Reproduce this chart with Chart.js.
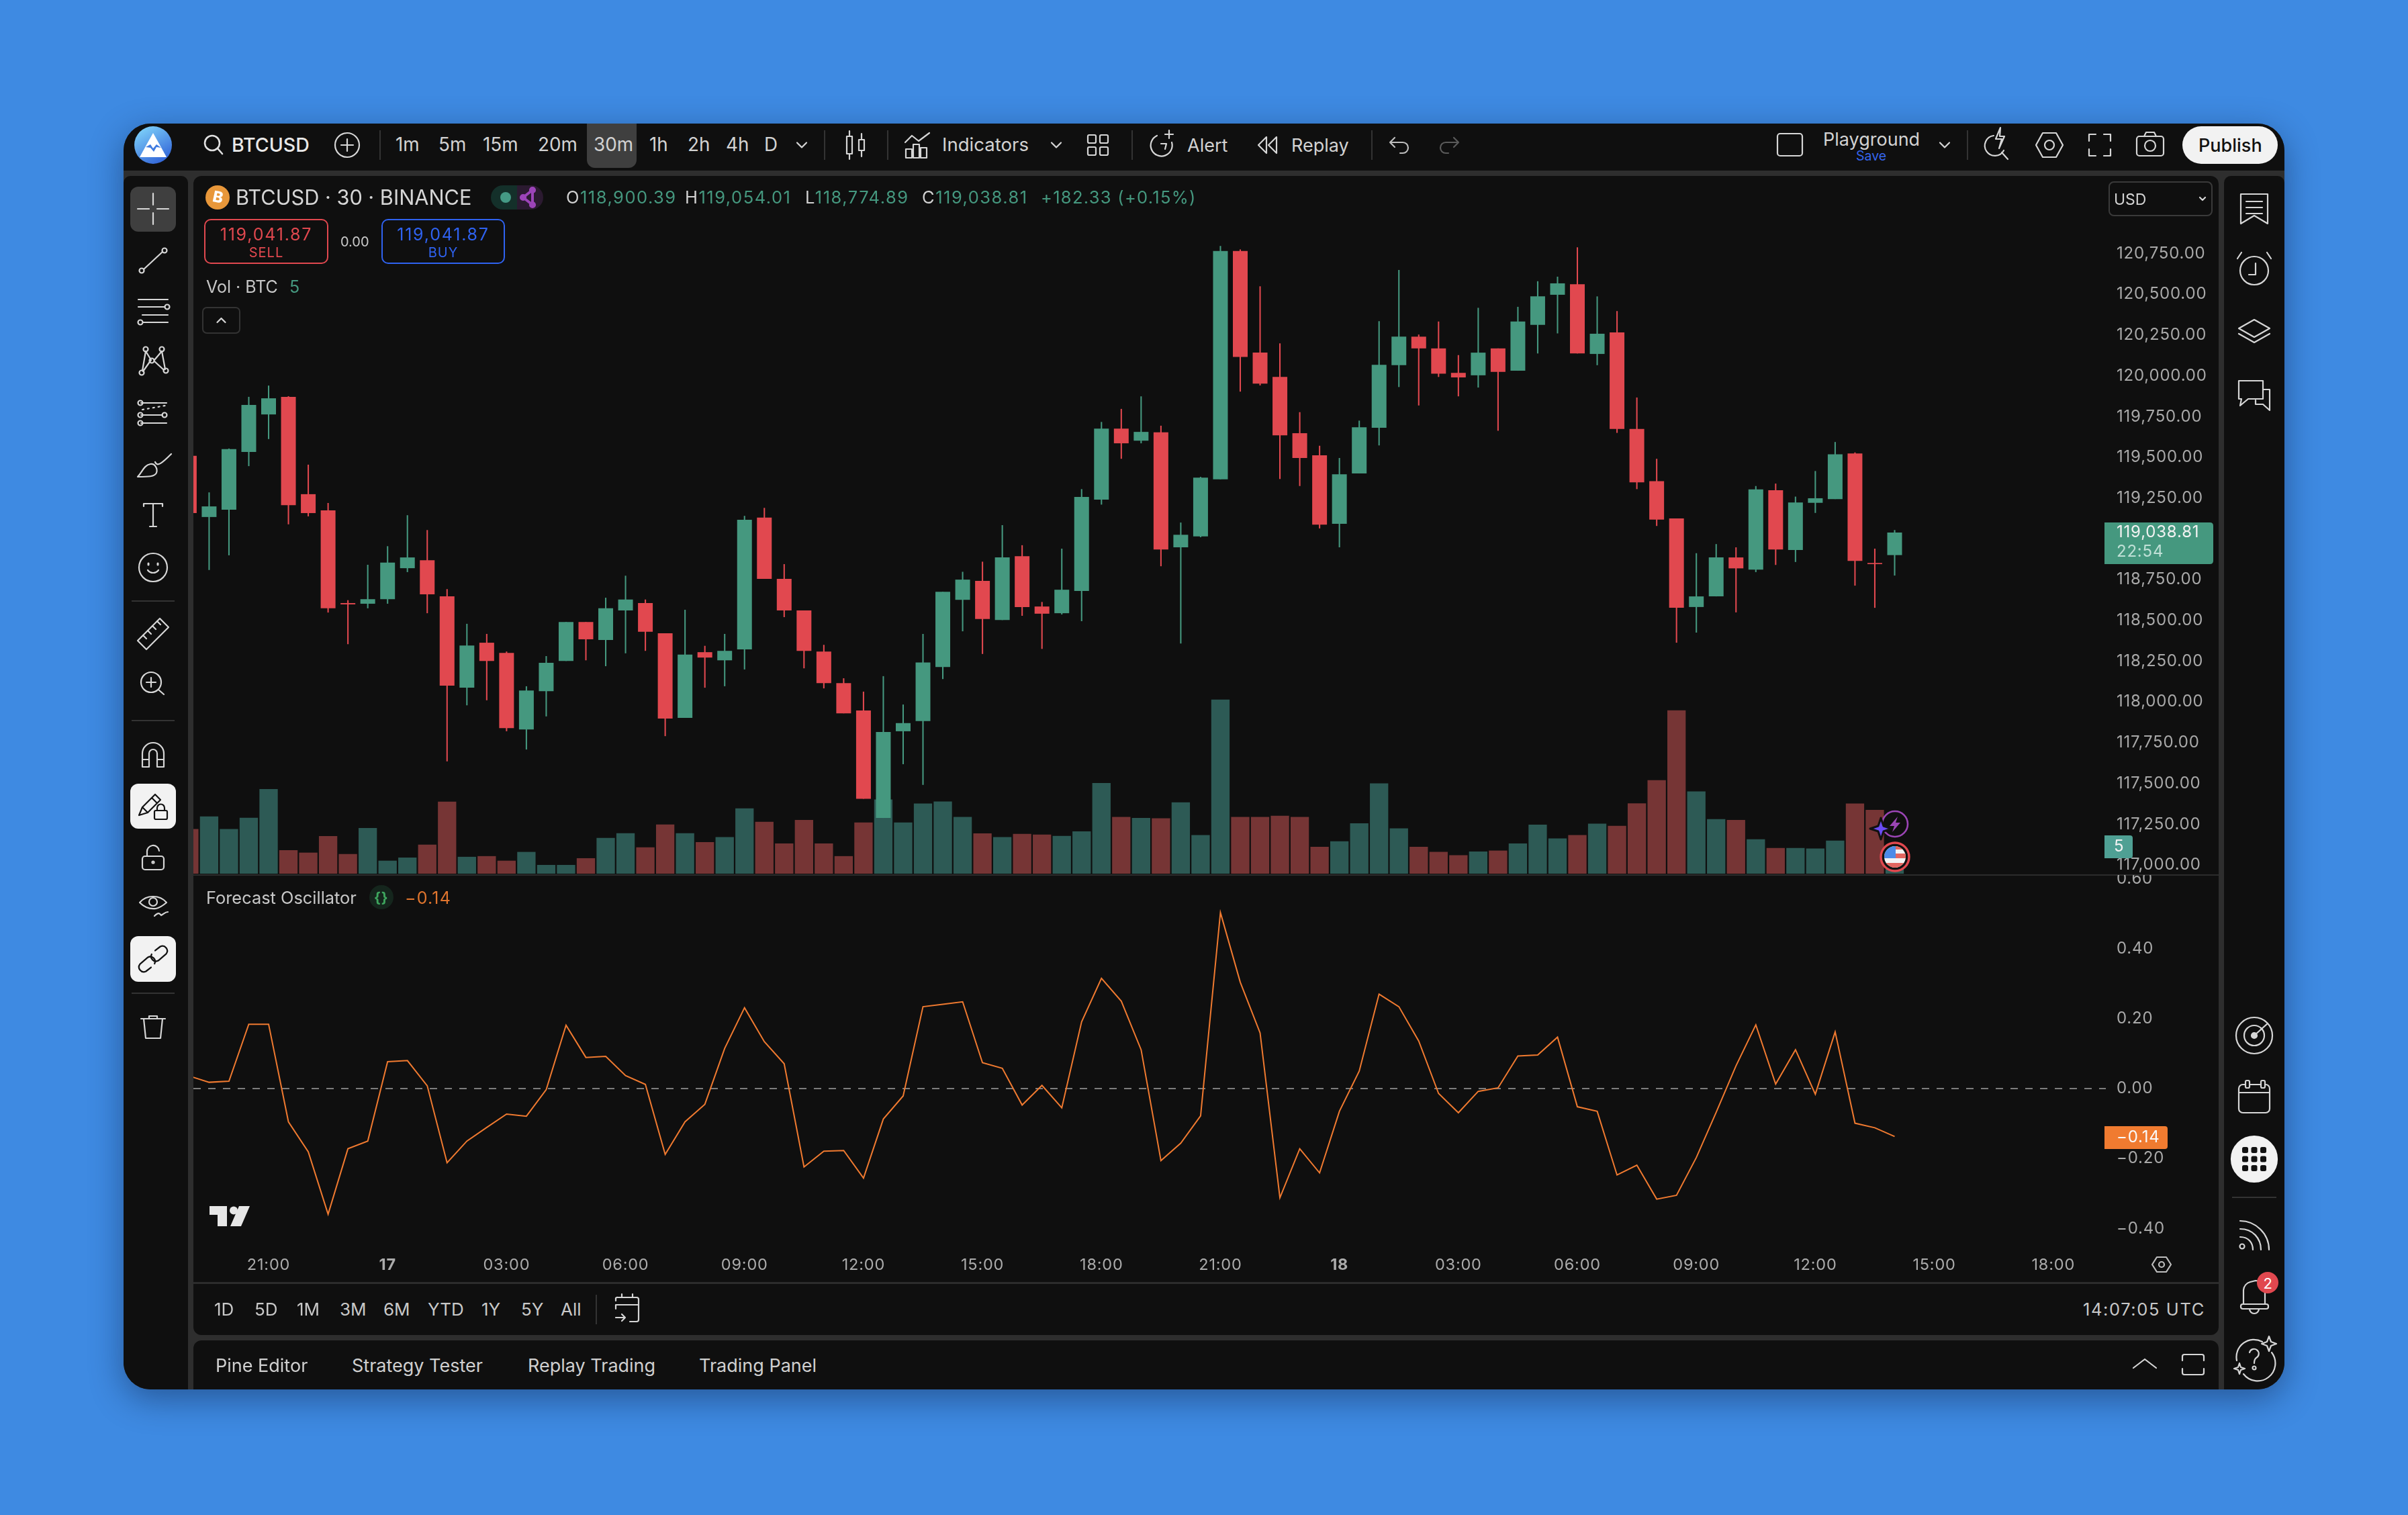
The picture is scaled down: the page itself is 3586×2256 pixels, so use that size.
<!DOCTYPE html>
<html><head><meta charset="utf-8"><title>BTCUSD chart</title>
<script src="https://cdn.jsdelivr.net/npm/chart.js@4/dist/chart.umd.js"></script>
<style>
html,body{margin:0;padding:0;background:#3E8AE2;width:3586px;height:2256px;overflow:hidden;font-family:Inter,"Noto Sans",sans-serif}
#panel{position:absolute;left:184px;top:184px;width:3218px;height:1885px;background:#2E2E2E;border-radius:40px;box-shadow:0 14px 50px rgba(8,20,50,.42);overflow:hidden}
.b{position:absolute;background:#0F0F0F}
.t{position:absolute;white-space:nowrap;transform:translateY(-50%);color:#D2D2D2;line-height:1}
svg{position:absolute;overflow:visible;fill:none;stroke:#D6D6D6;stroke-width:2.2;stroke-linecap:round;stroke-linejoin:round}
canvas{position:absolute}
</style></head><body>
<div id="panel"></div>
<div id="ui"></div>
<canvas id="priceChart" width="3016" height="1039" style="left:288px;top:262px"></canvas>
<canvas id="oscChart" width="3016" height="606" style="left:288px;top:1303px"></canvas>
<div id="ui2"></div>
<script>
// ---------- chart data ----------
const timeTickIndex=[4,10,16,22,28,34,40,46,52,58,64,70,76,82,88,94];
const timeTickLabels=['21:00','17','03:00','06:00','09:00','12:00','15:00','18:00','21:00','18','03:00','06:00','09:00','12:00','15:00','18:00'];
const priceTicks=[117000,117250,117500,117750,118000,118250,118500,118750,119250,119500,119750,120000,120250,120500,120750];
const oscTicks=[-0.4,-0.2,0,0.2,0.4,0.6];
const opens=[119509,119134,119179,119533,119763,119871,119274,119175,118606,118602,118630,118820,118869,118647,118087,118363,118300,117831,118066,118251,118490,118380,118561,118606,118421,117902,118305,118255,118322,119130,118755,118561,118309,118115,117947,117288,117820,117882,118214,118626,118742,118502,118894,118585,118544,118680,119241,119676,119602,119653,118948,119015,119365,120765,120142,119993,119648,119512,119092,119401,119681,120065,120240,120168,120018,120003,120168,120031,120312,120497,120562,120134,120266,119674,119354,119125,118582,118647,118886,118811,119298,118932,119221,119244,119524,118852,118900.39];
const highs=[119509,119285,119554,119871,119940,119875,119455,119220,118624,118841,118955,119145,119054,118692,118479,118417,118309,118096,118281,118490,118490,118639,118774,118628,118421,118565,118344,118417,119141,119190,118845,118561,118350,118145,118063,118158,117984,118417,118675,118798,118860,119084,118961,118613,118940,119305,119717,119797,119874,119694,119100,119380,120796,120775,120549,120199,119777,119571,119496,119725,120335,120649,120253,120333,120127,120417,120168,120423,120580,120608,120788,120487,120397,119867,119491,119125,118912,118968,118948,119324,119339,119259,119416,119594,119530,118940,119054.01];
const lows=[119158,118809,118899,119446,119612,119089,119138,118548,118354,118574,118602,118796,118544,117635,117979,118010,117820,117708,117911,118251,118255,118219,118298,118313,117790,117902,118087,118096,118199,118755,118520,118206,118083,117930,117406,117288,117618,117491,118140,118433,118294,118502,118528,118325,118536,118495,119210,119491,119586,118832,118358,119010,119365,119903,119941,119367,119324,119064,118948,119401,119573,119931,119818,119993,119874,119928,119663,120031,120137,120260,120137,120065,119650,119305,119079,118363,118425,118647,118549,118796,118840,118858,119159,119244,118713,118577,118774.89];
const closes=[119158,119199,119550,119821,119862,119207,119158,118574,118598,118630,118854,118886,118660,118100,118346,118251,117839,118070,118240,118490,118384,118574,118628,118430,117898,118290,118272,118313,119117,118755,118561,118313,118115,117930,117406,117816,117870,118242,118675,118750,118508,118886,118582,118541,118688,119257,119676,119586,119656,118935,119025,119375,120765,120116,119952,119635,119496,119087,119396,119684,120067,120240,120168,120013,119990,120142,120024,120333,120487,120567,120137,120258,119674,119347,119118,118577,118647,118886,118819,119303,118935,119223,119249,119519,118865,118845,119038.81];
const volumes=[8.3,10.65,8.3,10.4,15.75,4.38,3.92,6.99,3.66,8.5,2.42,3,5.42,13.4,3.14,3.27,2.42,4.05,1.63,1.63,2.88,6.67,7.52,4.9,9.15,7.52,5.88,6.8,12.16,9.67,5.62,10,5.62,3.27,9.54,13.8,9.54,13.05,13.44,10.55,7.5,6.8,7.42,7.27,7.03,7.89,16.88,10.55,10.39,10.31,13.28,7.19,32.4,10.55,10.55,10.78,10.55,5,6.02,9.38,16.8,8.44,5,4.06,3.44,4.14,4.3,5.63,9.14,6.56,7.19,9.3,8.9,13.1,17.4,30.4,15.3,10.16,10,6.4,4.77,4.77,4.69,6.17,13.05,11.88,5];
const oscillator=[0.036,0.018,0.021,0.184,0.184,-0.095,-0.181,-0.359,-0.172,-0.150,0.077,0.080,0.008,-0.212,-0.150,-0.111,-0.073,-0.079,-0.003,0.181,0.089,0.092,0.037,0.012,-0.188,-0.095,-0.045,0.115,0.231,0.134,0.071,-0.224,-0.179,-0.177,-0.256,-0.087,-0.021,0.234,0.241,0.248,0.074,0.058,-0.047,0.009,-0.055,0.191,0.315,0.250,0.111,-0.206,-0.156,-0.078,0.503,0.304,0.159,-0.312,-0.172,-0.241,-0.065,0.050,0.270,0.234,0.136,-0.014,-0.069,-0.008,0.002,0.093,0.096,0.147,-0.052,-0.065,-0.247,-0.219,-0.316,-0.305,-0.197,-0.068,0.065,0.182,0.013,0.111,-0.016,0.162,-0.099,-0.112,-0.137];
const lastPrice=119038.81, lastVolume=5, lastOsc=-0.14;

// ---------- colours ----------
const UP='#45987F',DOWN='#E1484F',VUP='#2D5A55',VDOWN='#763535',ORANGE='#F07A30';

// ---------- chart helpers ----------
const idx=opens.map((_,i)=>i);
const isUp=i=>closes[i]>=opens[i];
const candleColors=idx.map(i=>isUp(i)?UP:DOWN);
const volumeColors=idx.map(i=>isUp(i)?VUP:VDOWN);
const fmt=(v,d)=>(v<0?'\u2212':'')+Math.abs(v).toLocaleString('en-US',{minimumFractionDigits:d,maximumFractionDigits:d});
const xMin=0.207,xMax=96.65;
const TICK_FONT={family:'Inter',size:24};
function rrect(c,x,y,w,h,r){c.beginPath();c.moveTo(x,y);c.lineTo(x+w-r,y);c.quadraticCurveTo(x+w,y,x+w,y+r);c.lineTo(x+w,y+h-r);c.quadraticCurveTo(x+w,y+h,x+w-r,y+h);c.lineTo(x,y+h);c.closePath();c.fill();}
const yAxisCommon={position:'right',bounds:'data',border:{display:false},grid:{display:false,drawTicks:false},
  afterFit(s){s.width=168;s.paddingTop=0;s.paddingBottom=0;}};
const tracking={id:'tracking',beforeDraw(ch){ch.ctx.letterSpacing='0.8px';}};

new Chart(document.getElementById('priceChart'),{
  data:{datasets:[
    {type:'bar',label:'Candles',order:1,grouped:false,yAxisID:'y',categoryPercentage:1,barPercentage:0.745,borderWidth:0,backgroundColor:candleColors,
      data:idx.map(i=>({x:i,y:[opens[i],closes[i]]}))},
    {type:'bar',label:'Wicks',order:2,grouped:false,yAxisID:'y',categoryPercentage:1,barPercentage:0.07,borderWidth:0,backgroundColor:candleColors,
      data:idx.map(i=>({x:i,y:[lows[i],highs[i]]}))},
    {type:'bar',label:'Vol',order:3,grouped:false,yAxisID:'yVol',categoryPercentage:1,barPercentage:0.925,borderWidth:0,backgroundColor:volumeColors,
      data:idx.map(i=>({x:i,y:volumes[i]}))}
  ]},
  options:{responsive:false,animation:false,devicePixelRatio:1,events:[],layout:{padding:0},
    plugins:{legend:{display:false},tooltip:{enabled:false}},
    scales:{
      x:{type:'linear',display:false,min:xMin,max:xMax,bounds:'data',offset:false},
      y:{...yAxisCommon,type:'linear',min:116946.5,max:121225.7,
        afterBuildTicks(s){s.ticks=priceTicks.map(v=>({value:v}));},
        ticks:{color:'#A9A9A9',font:TICK_FONT,padding:16,autoSkip:false,callback:v=>fmt(v,2)}},
      yVol:{type:'linear',display:false,min:0,max:129.875,position:'right',bounds:'data'}
    }},
  plugins:[tracking,{id:'badges',afterDraw(ch){
    const c=ch.ctx,y=ch.scales.y,vy=ch.scales.yVol,x0=ch.chartArea.right-2;
    const py=y.getPixelForValue(lastPrice);
    c.save();c.fillStyle=UP;rrect(c,x0,py-15,162,62,5);
    c.textBaseline='middle';c.textAlign='left';c.font='24px Inter';c.fillStyle='#F2F2F2';
    c.fillText(fmt(lastPrice,2),x0+18,py);
    c.fillStyle='#BFE0D6';c.fillText('22:54',x0+18,py+29);
    const vyy=vy.getPixelForValue(lastVolume);
    c.fillStyle='#4FA094';rrect(c,x0,vyy-17,42,34,4);
    c.fillStyle='#F2F2F2';c.fillText(String(lastVolume),x0+14,vyy);
    c.restore();
  }}]
});

new Chart(document.getElementById('oscChart'),{
  data:{datasets:[
    {type:'line',label:'Forecast Oscillator',yAxisID:'y',borderColor:ORANGE,borderWidth:2,pointRadius:0,tension:0,
      data:idx.map(i=>({x:i,y:oscillator[i]}))}
  ]},
  options:{responsive:false,animation:false,devicePixelRatio:1,events:[],layout:{padding:0},
    plugins:{legend:{display:false},tooltip:{enabled:false}},
    scales:{
      x:{type:'linear',min:xMin,max:xMax,bounds:'data',border:{display:false},grid:{display:false,drawTicks:false},
        afterFit(s){s.height=47;s.paddingLeft=0;s.paddingRight=0;},
        afterBuildTicks(s){s.ticks=timeTickIndex.map(v=>({value:v}));},
        ticks:{color:'#ABABAB',padding:8,autoSkip:false,maxRotation:0,minRotation:0,
          font:c=>({family:'Inter',size:23.5,weight:(timeTickLabels[c.index]||'').length<3?'700':'400'}),
          callback:(v,i)=>timeTickLabels[i]}},
      y:{...yAxisCommon,type:'linear',min:-0.4626,max:0.6104,
        border:{display:false,dash:[11,11]},
        grid:{display:true,drawTicks:false,lineWidth:2,color:c=>c.tick&&c.tick.value===0?'#7C7C7C':'rgba(0,0,0,0)'},
        afterBuildTicks(s){s.ticks=oscTicks.map(v=>({value:v}));},
        ticks:{color:'#A9A9A9',font:TICK_FONT,padding:16,autoSkip:false,callback:v=>fmt(v,2)}}
    }},
  plugins:[tracking,{id:'oscBadge',afterDraw(ch){
    const c=ch.ctx,y=ch.scales.y,x0=ch.chartArea.right-2,py=y.getPixelForValue(lastOsc);
    c.save();c.fillStyle='#F07B30';rrect(c,x0,py-17,94,34,4);
    c.textBaseline='middle';c.textAlign='left';c.font='24px Inter';c.fillStyle='#FAFAFA';
    c.fillText(fmt(lastOsc,2),x0+18,py);c.restore();
  }}]
});

// ---------- application chrome ----------
let h='';
const box=(l,t,w,hh,extra='')=>{h+=`<div class="b" style="left:${l}px;top:${t}px;width:${w}px;height:${hh}px;${extra}"></div>`;};
const txt=(l,cy,s,size,col='#D2D2D2',extra='')=>`<div class="t" style="left:${l}px;top:${cy}px;font-size:${size}px;color:${col};${extra}">${s}</div>`;
const T=(...a)=>{h+=txt(...a);};
const rect=(l,t,w,hh,col,extra='')=>{h+=`<div style="position:absolute;left:${l}px;top:${t}px;width:${w}px;height:${hh}px;background:${col};${extra}"></div>`;};
const ic=(cx,cy,inner,col='#D6D6D6',sw=2.2)=>{h+=`<svg style="left:${cx}px;top:${cy}px;stroke:${col};stroke-width:${sw}" width="1" height="1">${inner}</svg>`;};

// panels
box(184,184,3218,70,'border-radius:40px 40px 0 0');
box(184,262,96,1807,'border-radius:10px 10px 0 40px');
box(288,262,3016,1726,'border-radius:12px');
box(288,1996,3016,73,'border-radius:12px 12px 0 0');
box(3312,262,90,1807,'border-radius:10px 10px 40px 0');
rect(288,1301.5,3016,2.5,'#2C2C2C');
rect(288,1909,3016,3,'#2C2C2C');

// top bar
h+=`<svg style="left:200px;top:188px;stroke:none" width="56" height="56" viewBox="0 0 56 56"><defs><linearGradient id="lg" x1="0.2" y1="0" x2="0.8" y2="1"><stop offset="0" stop-color="#7FD3FA"/><stop offset="1" stop-color="#2E5FD6"/></linearGradient></defs><circle cx="28" cy="28" r="28" fill="url(#lg)"/><path d="M28 10 L37 26 L48 46 L8 46 L19 26 Z" fill="#fff"/><path d="M17 31 L24 27 L28 33 L33 27 L40 32 L33 31 L29 38 L24 32Z" fill="#3F7BE0"/></svg>`;
ic(0,0,`<g transform="translate(317,215)"><circle cx="-1" cy="-2" r="11"/><path d="M7 6 L14 14"/></g>`,'#E0E0E0',2.6);
T(345,216,'BTCUSD',28.5,'#E8E8E8','font-weight:500');
ic(0,0,`<g transform="translate(517,216)"><circle r="18"/><path d="M0 -9V9M-9 0H9"/></g>`);
rect(565,194,2,44,'#333');
[['1m',589],['5m',653],['15m',719],['20m',801]].forEach(a=>T(a[1],216,a[0],27.8));
rect(874,184,74,66,'#3F3F3F','border-radius:0 0 12px 12px');
[['30m',884],['1h',967],['2h',1024],['4h',1081],['D',1138]].forEach(a=>T(a[1],216,a[0],27.8));
const chev=(x,y,s=6,up=false)=>ic(0,0,`<path d="M${x-s} ${y+(up?s/2:-s/2)} L${x} ${y+(up?-s/2:s/2)} L${x+s} ${y+(up?s/2:-s/2)}"/>`);
chev(1194,216,7);
rect(1227,194,2,44,'#333');
ic(0,0,`<g transform="translate(1274,216)"><path d="M-9 -21V21M9 -17V17"/><rect x="-13" y="-13" width="8" height="26" fill="#0F0F0F"/><rect x="5" y="-8" width="8" height="16" fill="#0F0F0F"/></g>`);
rect(1321,194,2,44,'#333');
ic(0,0,`<g transform="translate(1366,216)"><path d="M-18 -4 L-8 -14 L2 -6 L18 -18"/><rect x="-17" y="6" width="9" height="13"/><rect x="-6" y="-1" width="9" height="20"/><rect x="5" y="4" width="9" height="15"/></g>`);
T(1403,216,'Indicators',27.6);
chev(1573,216,7);
ic(0,0,`<g transform="translate(1635,216)"><rect x="-15" y="-15" width="12" height="12" rx="2"/><rect x="3" y="-15" width="12" height="12" rx="2"/><rect x="-15" y="3" width="12" height="12" rx="2"/><rect x="3" y="3" width="12" height="12" rx="2"/></g>`);
rect(1685,194,2,44,'#333');
ic(0,0,`<g transform="translate(1731,216)"><path d="M-8 -14 A16 16 0 1 0 14 -4"/><path d="M-2 -2 L6 -2 L4 6"/><path d="M10 -22 V-10 M4 -16 H16"/></g>`);
T(1768,216,'Alert',27);
ic(0,0,`<g transform="translate(1889,216)"><path d="M-3 -12 L-15 0 L-3 12 Z M12 -12 L0 0 L12 12 Z"/></g>`);
T(1923,216,'Replay',27);
rect(2042,194,2,44,'#333');
ic(0,0,`<g transform="translate(2083,216)"><path d="M-6 -11 L-13 -4 L-6 3 M-13 -4 H6 A8 8 0 0 1 6 12 H2"/></g>`,'#BDBDBD');
ic(0,0,`<g transform="translate(2159,216)"><path d="M6 -11 L13 -4 L6 3 M13 -4 H-6 A8 8 0 0 0 -6 12 H-2"/></g>`,'#5A5A5A');
ic(0,0,`<rect x="2647" y="199" width="37" height="33" rx="4"/>`);
T(2715,207,'Playground',27);
T(2764,233,'Save',19.5,'#3565EE');
chev(2896,216,7);
rect(2929,194,2,44,'#333');
ic(0,0,`<g transform="translate(2975,215)"><path d="M-6 -13 A15 15 0 1 0 9 9"/><path d="M4 -25 L-3 -8 H6 L2 6 L10 -12 H3 Z"/><path d="M6 12 L15 22"/></g>`);
ic(0,0,`<g transform="translate(3052,216)"><path d="M-10 -18 H10 L20 0 L10 18 H-10 L-20 0 Z"/><circle r="7"/></g>`);
ic(0,0,`<g transform="translate(3127,216)"><path d="M-16 -6 V-16 H-6 M6 -16 H16 V-6 M16 6 V16 H6 M-6 16 H-16 V6"/></g>`);
ic(0,0,`<g transform="translate(3202,216)"><rect x="-20" y="-13" width="40" height="29" rx="4"/><path d="M-9 -13 L-6 -19 H6 L9 -13"/><circle cy="1" r="8"/></g>`);
rect(3250,188,142,56,'#F2F2F2','border-radius:28px');
T(3274,216,'Publish',27,'#111','font-weight:500');

// left toolbar
rect(194,278,68,67,'#3F3F3F','border-radius:12px');
const L=228;
ic(L,311,`<path d="M0 -23V-6M0 6V23M-23 0H-6M6 0H23"/>`);
ic(L,388,`<path d="M-14 13 L14 -13"/><circle cx="-17" cy="15" r="3.5"/><circle cx="17" cy="-15" r="3.5"/>`);
ic(L,463,`<path d="M-22 -17H22M-22 -6H17M-16 6H22M-15 17H22"/><circle cx="21" cy="-6" r="3.5"/><circle cx="-19" cy="17" r="3.5"/>`);
ic(L,538,`<path d="M-11 -15 L-16 14 M-11 -15 L-3 -2 M-15 15 L-3 -2 M13 -15 L2 -2 M13 -15 L18 12 M2 0 L16 13"/><circle cx="-11" cy="-18" r="3.5"/><circle cx="13" cy="-18" r="3.5"/><circle cx="-17" cy="17" r="3.5"/><circle cx="19" cy="14" r="3.5"/><circle cx="-2" cy="-1" r="3.5"/>`);
ic(L,616,`<path d="M-18 -16H20M-18 2H14M-18 14H20"/><path d="M-16 -6 L18 -12" stroke-dasharray="2 6"/><circle cx="-19" cy="-16" r="3.5"/><circle cx="-19" cy="2" r="3.5"/><circle cx="17" cy="2" r="3.5"/><circle cx="-19" cy="14" r="3.5"/>`);
ic(L,693,`<path d="M-23 17 C-16 10 -14 0 -4 -2 C3 -3 7 5 5 11 C3 17 -8 17 -23 17Z"/><path d="M3 -5 C6 3 14 -4 27 -17"/>`);
ic(L,767,`<path d="M-14 -13 V-17 H14 V-13M0 -17V17M-5 17H5"/>`);
ic(L,845,`<circle r="21"/><path d="M-8 4 A10 10 0 0 0 8 4"/><path d="M-7 -6V-4M7 -6V-4" stroke-width="3"/>`);
rect(196,894,64,2,'#333');
ic(L,944,`<path d="M-23 10 L10 -23 L23 -10 L-10 23 Z"/><path d="M-15 2 L-10 7M-8 -5 L-3 0M-1 -12 L4 -7M6 -19 L11 -14" transform="translate(0,0)"/>`);
ic(L,1019,`<circle cx="-3" cy="-3" r="15"/><path d="M8 8 L16 15M-3 -10V4M-10 -3H4"/>`);
rect(196,1072,64,2,'#333');
ic(L,1122,`<path d="M-16 20 V0 A16 16 0 0 1 16 0 V20 H6 V0 A6 6 0 0 0 -6 0 V20 Z M-16 9H-6M6 9H16"/>`);
rect(194,1167,68,67,'#F2F2F2','border-radius:12px');
ic(L,1200,`<path d="M-16 2 L3 -17 L11 -9 L-8 10 L-21 14 Z M-2 -12 L6 -4 M-16 2 L-8 10"/><rect x="2" y="7" width="19" height="13" rx="2" fill="#F2F2F2"/><path d="M6 7V3A5.500 5.500 0 0 1 17 3V7"/>`,'#111');
ic(L,1278,`<rect x="-16" y="-3" width="32" height="20" rx="4"/><path d="M-9 -3 V-9 A9 9 0 0 1 9 -11"/><circle cy="6" r="1.5"/>`);
ic(L,1346,`<path d="M-20 -2 C-10 -14 10 -14 20 -2 C14 3 10 6 4 7 C-4 8 -12 6 -20 -2Z"/><circle cy="-3" r="6"/><path d="M2 18 C8 12 10 14 12 17 C16 15 18 12 22 12"/>`);
rect(194,1394,68,68,'#F2F2F2','border-radius:12px');
ic(L,1428,`<g transform="rotate(-8) scale(1.2)"><path d="M-4 10 L-11 14 A6 6 0 0 1 -17 4 L-6 -3 A6 6 0 0 1 1 6"/><path d="M4 -10 L11 -14 A6 6 0 0 1 17 -4 L6 3 A6 6 0 0 1 -1 -6"/></g>`,'#111',1.9);
rect(196,1478,64,2,'#333');
ic(L,1529,`<path d="M-18 -12 H18 M-6 -12 V-16 H6 V-12 M-14 -12 L-11 17 H11 L14 -12"/>`);

// right toolbar
const R=3357;
ic(R,311,`<path d="M-20 -22 H20 V22 L0 10 L-20 22 Z M-12 -11H12M-12 -2H12M-12 7H12"/>`);
ic(R,400,`<circle cy="3" r="21"/><path d="M2 -8 V9 H-8M-19 -24 L-25 -15M19 -24 L25 -15"/>`);
ic(R,492,`<path d="M0 -16 L23 -3 L0 10 L-23 -3 Z"/><path d="M-23 5 L0 18 L23 5"/>`);
ic(R,588,`<path d="M-23 -21 H13 V6 H-9 L-21 16 L-19 6 H-23 Z"/><path d="M13 -8 H23 V23 L13 14 H2 V8"/>`);
ic(R,1542,`<circle r="27"/><circle r="15"/><circle r="4" fill="#D6D6D6"/><path d="M0 0 L20 -18"/>`);
ic(R,1634,`<rect x="-23" y="-19" width="46" height="42" rx="6"/><path d="M-23 -7 H23"/><rect x="-13" y="-25" width="6" height="11" rx="2" fill="#0F0F0F"/><rect x="10" y="-25" width="6" height="11" rx="2" fill="#0F0F0F"/>`);
ic(R,1726,`<circle r="34" fill="#F2F2F2" stroke="#F2F2F2"/><g fill="#111" stroke="none"><rect x="-18" y="-18" width="9" height="9" rx="2.5"/><rect x="-4.5" y="-18" width="9" height="9" rx="2.5"/><rect x="9" y="-18" width="9" height="9" rx="2.5"/><rect x="-18" y="-4.500" width="9" height="9" rx="2.5"/><rect x="-4.5" y="-4.5" width="9" height="9" rx="2.5"/><rect x="9" y="-4.5" width="9" height="9" rx="2.5"/><rect x="-18" y="9" width="9" height="9" rx="2.5"/><rect x="-4.5" y="9" width="9" height="9" rx="2.5"/><rect x="9" y="9" width="9" height="9" rx="2.5"/></g>`);
rect(3324,1782,66,2,'#333');
ic(R,1839,`<circle cx="-18" cy="17" r="3.5"/><path d="M-21 3 C-8 3 -2 12 -2 22 M-21 -9 C-2 -9 10 5 10 22 M-21 -21 C2 -21 22 -2 22 22"/>`);
ic(R,1927,`<path d="M-16 15 V-6 A14 14 0 0 1 -6 -18 L2 -20 A14 14 0 0 1 16 -6 V15"/><rect x="-20" y="15" width="41" height="7" rx="3"/><path d="M-7 22 A7 7 0 0 0 7 22"/>`);
h+=`<svg style="left:3361px;top:1894px;stroke:none" width="32" height="32"><circle cx="16" cy="16" r="16" fill="#E1484F"/></svg>`;
h+=txt(3370.5,1910.5,'2',22,'#fff');
ic(R,2022,`<path d="M-26 4 A26 26 0 0 1 12 -24M26 -8 A26 26 0 0 1 -16 24"/><path d="M-7 -8 A7 7 0 1 1 3 0 Q0 2 0 8"/><circle cy="15" r="2.5"/><path d="M22 -32 L25 -24 L33 -21 L25 -18 L22 -10 L19 -18 L11 -21 L19 -24Z" fill="#0F0F0F"/><path d="M-22 8 L-20 14 L-14 16 L-20 18 L-22 24 L-24 18 L-30 16 L-24 14Z" fill="#0F0F0F"/>`);

document.getElementById('ui').innerHTML=h;

// overlays above the charts
h='';
// symbol row
h+=`<svg style="left:306px;top:276px;stroke:none" width="36" height="36"><circle cx="18" cy="18" r="18" fill="#E8973A"/></svg>`;
T(317,294,'B',23,'#fff','font-weight:800;transform:translateY(-50%) rotate(12deg)');
T(351,294,'BTCUSD · 30 · BINANCE',30.7,'#D6D6D6');
rect(731,276,39,36,'#14302A','border-radius:18px 0 0 18px');
rect(770,276,39,36,'#2B1A30','border-radius:0 18px 18px 0');
h+=`<svg style="left:744px;top:285px;stroke:none" width="18" height="18"><circle cx="9" cy="9" r="8" fill="#459A85"/></svg>`;
ic(785,294,`<path d="M8 -11 L-6 0 L8 11 V-11" stroke-width="4"/><circle cx="8" cy="-11" r="4" fill="#9C44B8"/><circle cx="-6" cy="0" r="4" fill="#9C44B8"/><circle cx="8" cy="11" r="4" fill="#9C44B8"/>`,'#9C44B8');
const ohlc=[['O','118,900.39',843],['H','119,054.01',1020],['L','118,774.89',1199],['C','119,038.81',1373]];
ohlc.forEach(a=>T(a[2],294,`${a[0]}<span style="color:#45987F">${a[1]}</span>`,25.5,'#D2D2D2','letter-spacing:1.5px'));
T(1550,294,'+182.33 (+0.15%)',25.5,'#45987F','letter-spacing:1.3px');
const btn=(l,w,col,price,lab)=>{
  rect(l,326,w,67,'transparent',`border:2.4px solid ${col};border-radius:10px;box-sizing:border-box`);
  h+=`<div class="t" style="left:${l}px;width:${w}px;text-align:center;top:349px;font-size:25px;letter-spacing:1.8px;color:${col}">${price}</div>`;
  h+=`<div class="t" style="left:${l}px;width:${w}px;text-align:center;top:376px;font-size:20px;letter-spacing:1px;color:${col}">${lab}</div>`;
};
btn(304,185,'#E1484F','119,041.87','SELL');
T(507,360,'0.00',20,'#C8C8C8');
btn(568,184,'#2F62F0','119,041.87','BUY');
T(307,427,'Vol · BTC <span style="color:#45987F;margin-left:10px">5</span>',25,'#C8C8C8');
rect(301,457,57,40,'transparent','border:2px solid #333;border-radius:7px;box-sizing:border-box');
chev(329.500,477,6,true);
T(3148,297,'USD',23,'#D2D2D2');
rect(3140,270,155,52,'transparent','border:2.5px solid #3A3A3A;border-radius:8px;box-sizing:border-box');
chev(3280,296,4);

// volume pane markers
h+=`<svg style="left:2800px;top:1206px;stroke:none" width="46" height="46"><circle cx="22" cy="21" r="19" fill="#0F0F0F" stroke="#9B45B5" stroke-width="2.6"/><path d="M26 10 L14 24 H21 L18 33 L30 19 H23 Z" fill="#9B45B5"/></svg>`;
h+=`<svg style="left:2785px;top:1217px;stroke:#111;stroke-width:3" width="34" height="34"><path d="M16 1 L20 13 L32 17 L20 21 L16 33 L12 21 L0 17 L12 13 Z" fill="#6A4CF5"/></svg>`;
h+=`<svg style="left:2800px;top:1254px;stroke:none" width="44" height="44" viewBox="0 0 44 44"><circle cx="22" cy="22" r="21" fill="#111" stroke="#E1484F" stroke-width="3.4"/><clipPath id="fc"><circle cx="22" cy="22" r="16"/></clipPath><g clip-path="url(#fc)"><rect x="5" y="5" width="34" height="34" fill="#F4F4F4"/><rect x="5" y="17" width="34" height="7" fill="#E26660"/><rect x="5" y="31" width="34" height="8" fill="#E26660"/><rect x="22" y="6" width="17" height="5" fill="#E26660"/><rect x="5" y="5" width="18" height="19" fill="#4C8BE8"/></g></svg>`;

// oscillator legend
T(307,1337,'Forecast Oscillator',25.4,'#C8C8C8');
h+=`<svg style="left:550px;top:1318px;stroke:none" width="36" height="36"><circle cx="18" cy="18" r="18" fill="#15261D"/></svg>`;
T(557,1336,'{ }',21,'#3EA65E','font-weight:700;letter-spacing:-2px');
T(603,1337,'\u22120.14',25,'#E0752E','letter-spacing:1.2px');
h+=`<svg style="left:312px;top:1796px;stroke:none" width="60" height="30"><path d="M0 0H26V30H12V13H0Z M60 0 L47 30 H31 L44 0Z" fill="#E6E6E6"/><circle cx="36" cy="6.500" r="6" fill="#E6E6E6"/></svg>`;
ic(3219,1883,`<path d="M-7 -11 H7 L14 0 L7 11 H-7 L-14 0 Z"/><circle r="4"/>`,'#BDBDBD');

// range bar
[['1D',319],['5D',379],['1M',442],['3M',506],['6M',571],['YTD',637],['1Y',717],['5Y',776],['All',835]].forEach(a=>T(a[1],1950,a[0],26,'#C8C8C8'));
rect(887,1928,2,44,'#333');
ic(934,1949,`<path d="M-17 -12 V-16 A3 3 0 0 1 -14 -17 H14 A3 3 0 0 1 17 -14 V16 A3 3 0 0 1 14 19 H4 M-17 -6 H17 M-8 -22 V-17 M8 -22 V-17 M-17 -6 V0 M-17 13 H-3 M-8 8 L-3 13 L-8 18"/>`);
T(3102,1950,'14:07:05 UTC',25.5,'#C8C8C8','letter-spacing:1.6px');

// bottom tabs
[['Pine Editor',321],['Strategy Tester',524],['Replay Trading',786],['Trading Panel',1041]].forEach(a=>T(a[1],2033,a[0],27,'#CFCFCF'));
ic(3194,2030,`<path d="M-17 7 L0 -6 L17 7"/>`);
ic(3266,2032,`<path d="M-16 -6 V-12 A3 3 0 0 1 -13 -15 H13 A3 3 0 0 1 16 -12 V-6 M16 6 V12 A3 3 0 0 1 13 15 H-13 A3 3 0 0 1 -16 12 V6"/>`);
document.getElementById('ui2').innerHTML=h;
</script>
</body></html>
